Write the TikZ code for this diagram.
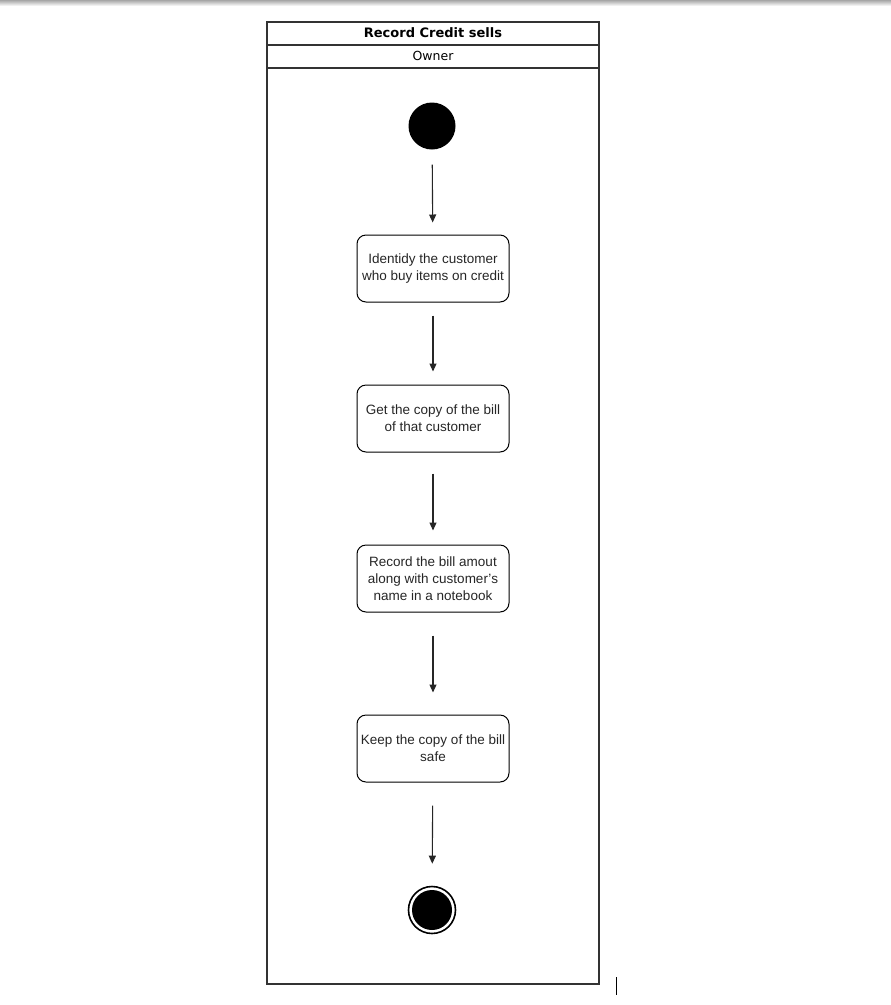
\documentclass[tikz,border=0pt]{standalone}
\usepackage{fontspec}
\setmainfont{Liberation Sans}
\newfontfamily\titlefont{DejaVu Sans}
\usetikzlibrary{arrows.meta}
\begin{document}
\begin{tikzpicture}[x=1pt,y=-1pt,
  action/.style={draw=black, line width=1pt, rounded corners=9pt, minimum width=152pt,
    minimum height=67pt, align=center, inner sep=1pt, font=\fontsize{13.5}{17}\selectfont, text=black!85},
  flow/.style={draw=black!85, line width=1.1pt, -{Triangle[length=8pt,width=7pt]}},
  lane/.style={draw=black!80, line width=1.3pt}]
\useasboundingbox (0,0) rectangle (891,1005);
% top toolbar shadow
\shade[top color=black!35, bottom color=white] (0,0) rectangle (891,6);
% swimlane frame
\draw[lane] (267,22) rectangle (599,984);
\draw[lane] (267,45) -- (599,45);
\draw[lane] (267,68) -- (599,68);
\node[font=\titlefont\bfseries\fontsize{13}{15}\selectfont] (title) at (433,33) {Record Credit sells};
\node[font=\titlefont\fontsize{12.5}{15}\selectfont] (lanename) at (433,56) {Owner};
% activity nodes
\node[circle, fill=black, minimum size=47pt, inner sep=0pt] (start) at (432,126) {};
\node[action] (a1) at (433,268.5) {Identidy the customer\\who buy items on credit};
\node[action] (a2) at (433,418.5) {Get the copy of the bill\\of that customer};
\node[action] (a3) at (433,578.5) {Record the bill amout\\along with customer's\\name in a notebook};
\node[action] (a4) at (433,748.5) {Keep the copy of the bill\\safe};
\node[circle, draw=black, line width=1.6pt, fill=white, minimum size=47pt, inner sep=0pt] (stop) at (432,910) {};
\node[circle, fill=black, minimum size=40pt, inner sep=0pt] (stopdot) at (432,910) {};
% control flow
\draw[flow, shorten <=15pt, shorten >=12pt] (start) -- (a1);
\draw[flow, shorten <=13pt, shorten >=13pt] (a1) -- (a2);
\draw[flow, shorten <=21pt, shorten >=14pt] (a2) -- (a3);
\draw[flow, shorten <=23pt, shorten >=22pt] (a3) -- (a4);
\draw[flow, shorten <=23pt, shorten >=22pt] (a4) -- (stop);
% text cursor mark
\draw[black, line width=1pt] (616,977) -- (616,995);
\end{tikzpicture}
\end{document}
